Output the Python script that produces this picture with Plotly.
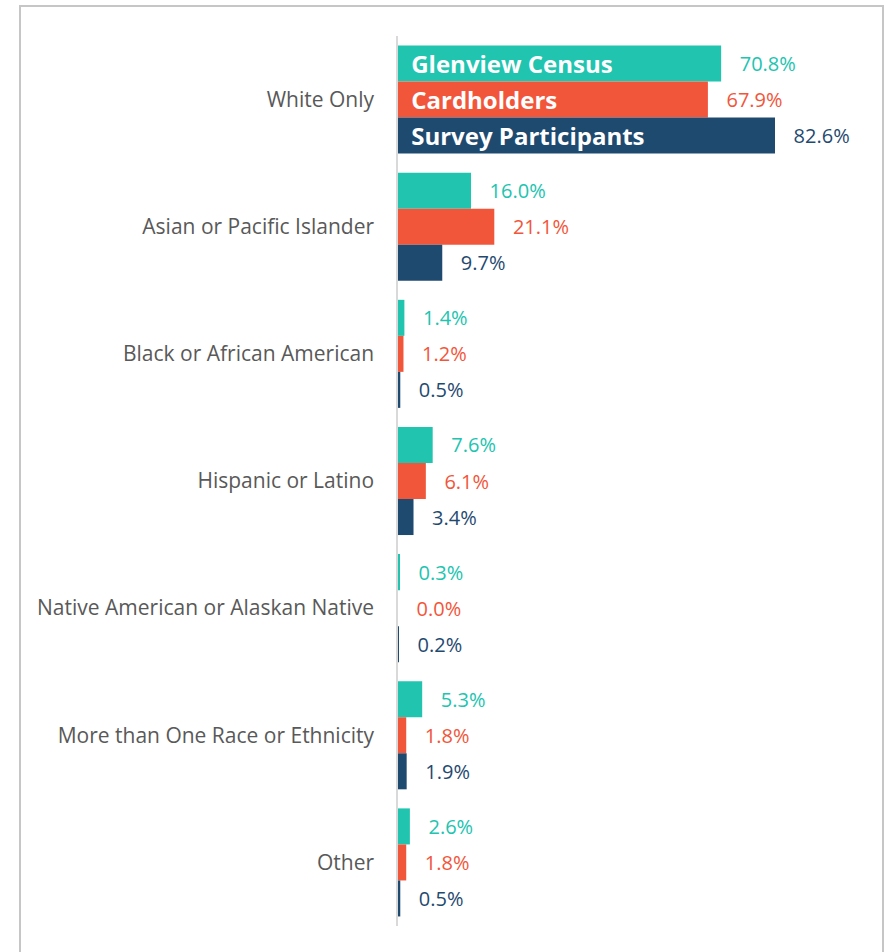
import plotly.graph_objects as go

categories = ["White Only", "Asian or Pacific Islander", "Black or African American",
              "Hispanic or Latino", "Native American or Alaskan Native",
              "More than One Race or Ethnicity", "Other"]
series_names = ["Glenview Census", "Cardholders", "Survey Participants"]
glenview = [70.8, 16.0, 1.4, 7.6, 0.3, 5.3, 2.6]
cardholders = [67.9, 21.1, 1.2, 6.1, 0.0, 1.8, 1.8]
survey = [82.6, 9.7, 0.5, 3.4, 0.2, 1.9, 0.5]
colors = ["#20C4AF", "#F2563A", "#1F4A70"]

FONT = "Open Sans"
fig = go.Figure()
for i, (name, vals) in enumerate(zip(series_names, [glenview, cardholders, survey])):
    fig.add_trace(go.Bar(
        y=categories, x=vals, orientation="h", name=name,
        marker=dict(color=colors[i], line=dict(width=0)),
        offsetgroup=str(i),
        text=["\u00a0\u00a0\u00a0" + f"{v:.1f}%" for v in vals],
        textposition="outside", cliponaxis=False,
        textfont=dict(family=FONT, size=20, color=colors[i]),
        hoverinfo="skip",
    ))
    # series name label inside the first category's bar
    fig.add_trace(go.Bar(
        y=categories[:1], x=vals[:1], orientation="h", name=name + " label",
        marker=dict(color="rgba(0,0,0,0)", line=dict(width=0)),
        offsetgroup=str(i),
        text=["\u00a0\u2009" + name], textposition="inside", insidetextanchor="start",
        textfont=dict(family=FONT, size=24, color="white", weight="bold"),
        constraintext="none", hoverinfo="skip", showlegend=False,
    ))

L, R, T, B = 398, 17, 36, 26
W, H = 887, 952
pw, ph = W - L - R, H - T - B
px_per = 377 / 82.6
xmax = pw / px_per

fig.update_layout(
    width=W, height=H, barmode="group", bargap=0.15, bargroupgap=0,
    margin=dict(l=L, r=R, t=T, b=B), showlegend=False,
    plot_bgcolor="white", paper_bgcolor="white",
    font=dict(family=FONT),
    uniformtext=dict(mode=False),
    xaxis=dict(range=[0, xmax], visible=False, fixedrange=True),
    yaxis=dict(autorange="reversed", showline=True, linecolor="#D9D9D9", linewidth=1.5,
               ticks="", ticklabelstandoff=18, showgrid=False,
               tickfont=dict(family=FONT, size=21, color="#595959")),
    shapes=[dict(type="rect", xref="paper", yref="paper",
                 x0=(20 - L) / pw, x1=(883 - L) / pw,
                 y0=-0.2, y1=(H - B - 6) / ph,
                 line=dict(color="#C6C6C6", width=2), layer="below")],
)
fig.write_html("out.html")
